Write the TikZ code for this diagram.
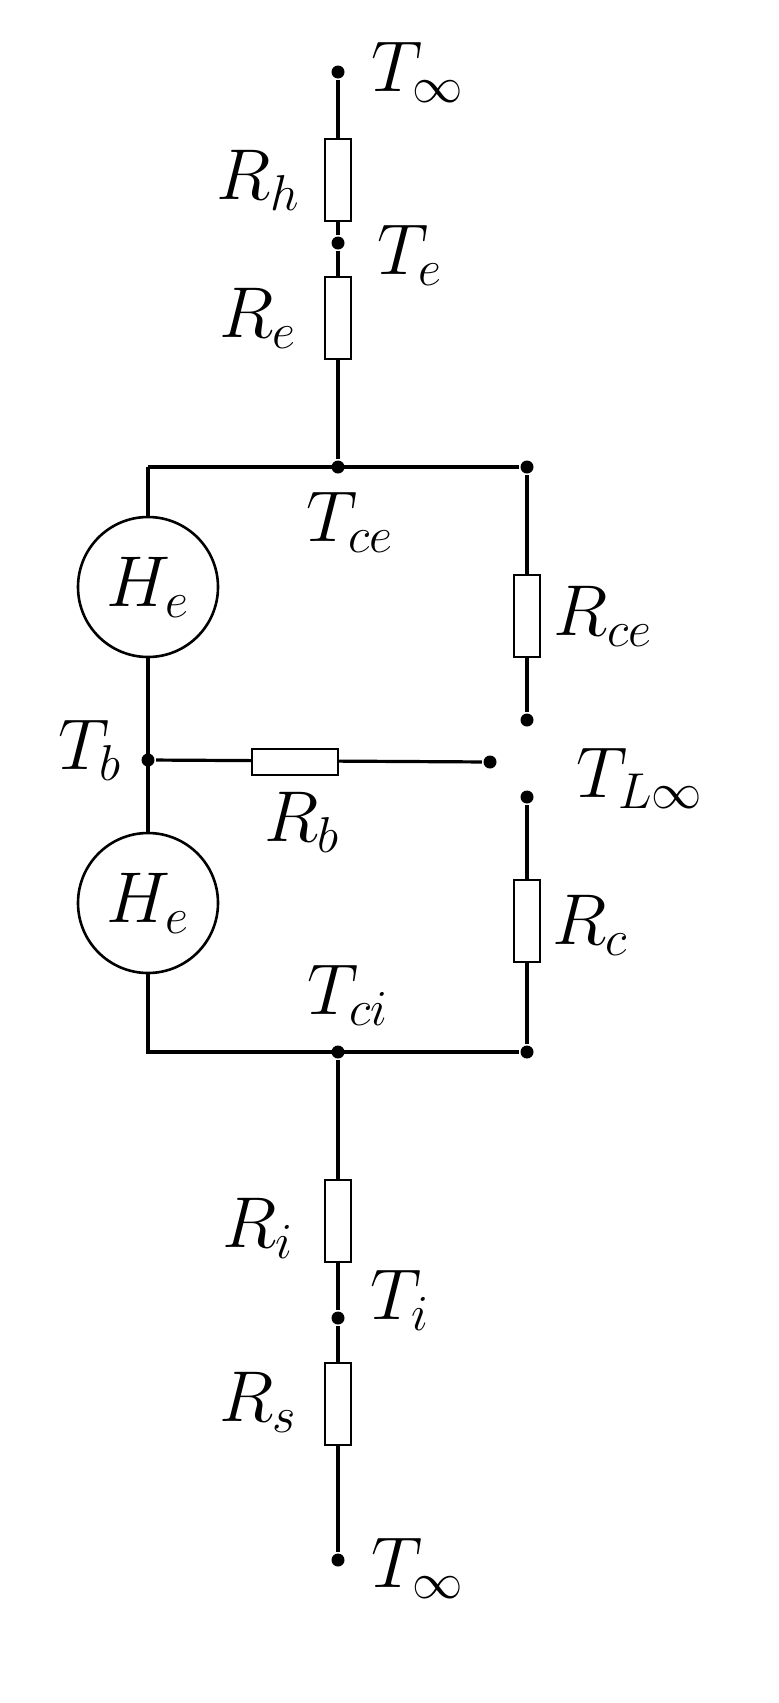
\RequirePackage{fix-cm}
\documentclass[tikz,border=0pt]{standalone}
\begin{document}
\begin{tikzpicture}[x=0.5pt,y=-0.5pt,line width=1.6pt,
 dot/.style={circle,fill=black,inner sep=0pt,minimum size=6.5pt},
 res/.style={draw,fill=white,line width=1.3pt,minimum width=13pt,minimum height=41pt,inner sep=0pt},
 resh/.style={draw,fill=white,line width=1.3pt,minimum width=43pt,minimum height=13pt,inner sep=0pt},
 src/.style={draw,fill=white,circle,line width=1.3pt,minimum size=70pt,inner sep=0pt,font=\fontsize{36}{40}\selectfont},
 lab/.style={font=\fontsize{36}{40}\selectfont}]
\useasboundingbox (0,0) rectangle (778,1703);
\node[dot] (tinf) at (338,72) {};
\node[dot] (te) at (338,243) {};
\node[dot] (tce) at (338,467) {};
\node[dot] (tr) at (527,467) {};
\coordinate (tl) at (148,467);
\coordinate (bl) at (148,1052);
\node[dot] (tb) at (148,760) {};
\node[dot] (rbe) at (490,762) {};
\node[dot] (tl1) at (527,720) {};
\node[dot] (tl2) at (527,797) {};
\node[dot] (br) at (527,1052) {};
\node[dot] (tci) at (338,1052) {};
\node[dot] (ti) at (338,1318) {};
\node[dot] (binf) at (338,1560) {};
\draw (tinf) -- (te) -- (tce);
\draw (tl) -- (tr) -- (tl1);
\draw (tl) -- (bl) -- (br) -- (tl2);
\draw (tb) -- (rbe);
\draw (tci) -- (ti) -- (binf);
\node[res] at (338,180) {};
\node[res] at (338,318) {};
\node[res] at (527,616) {};
\node[res] at (527,921) {};
\node[res] at (338,1221) {};
\node[res] at (338,1404) {};
\node[resh] at (295,762) {};
\node[src] at (148,587) {$H_e$};
\node[src] at (148,903) {$H_e$};
\node[lab] at (418,72) {$T_\infty$};
\node[lab] at (258,180) {$R_h$};
\node[lab] at (410,255) {$T_e$};
\node[lab] at (258,318) {$R_e$};
\node[lab] at (350,522) {$T_{ce}$};
\node[lab] at (603,616) {$R_{ce}$};
\node[lab] at (90,750) {$T_b$};
\node[lab] at (640,778) {$T_{L\infty}$};
\node[lab] at (302,822) {$R_b$};
\node[lab] at (590,925) {$R_c$};
\node[lab] at (348,995) {$T_{ci}$};
\node[lab] at (258,1228) {$R_i$};
\node[lab] at (400,1300) {$T_i$};
\node[lab] at (258,1402) {$R_s$};
\node[lab] at (418,1568) {$T_\infty$};
\end{tikzpicture}
\end{document}
